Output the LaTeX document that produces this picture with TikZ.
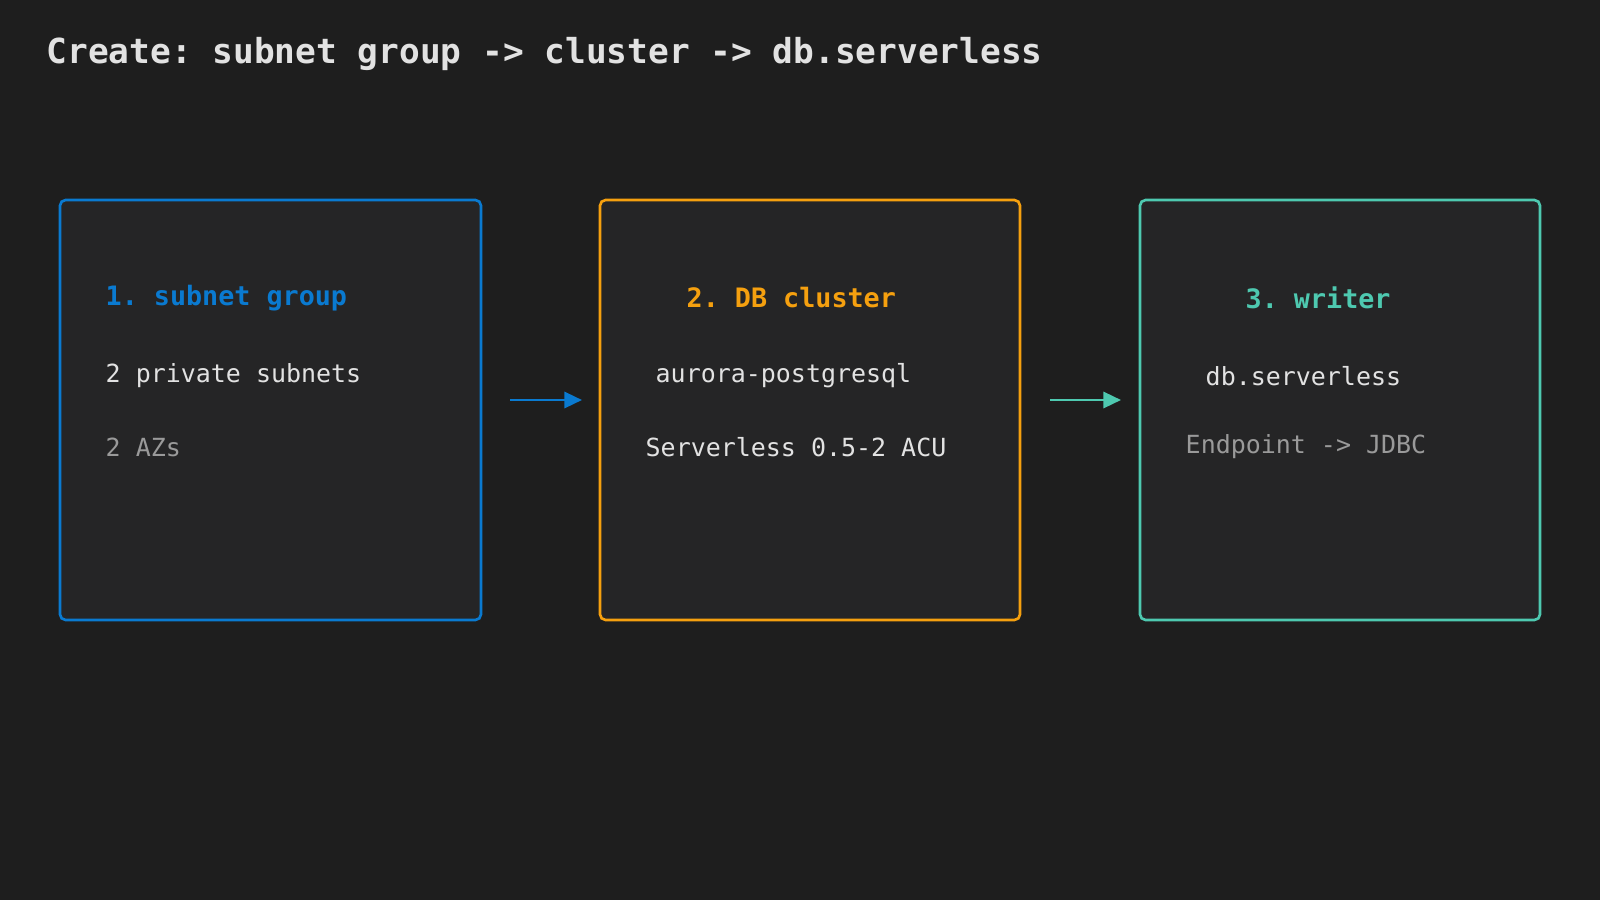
\documentclass[tikz,border=0pt]{standalone}
\usepackage{fontspec}
\setmonofont{DejaVu Sans Mono}
\usetikzlibrary{arrows.meta}
\definecolor{bg}{HTML}{1E1E1E}
\definecolor{boxfill}{HTML}{252526}
\definecolor{cblue}{HTML}{0A7AD0}
\definecolor{corange}{HTML}{F5A00F}
\definecolor{cteal}{HTML}{4EC9B0}
\definecolor{ctext}{HTML}{E2E2E2}
\definecolor{cgray}{HTML}{9A9A9A}
\tikzstyle{stage}=[line width=0.75pt,rounded corners=1.6pt,fill=boxfill]
\tikzstyle{head}=[anchor=west,inner sep=0pt,font=\ttfamily\bfseries\fontsize{7.6}{9}\selectfont]
\tikzstyle{line}=[anchor=west,inner sep=0pt,font=\ttfamily\fontsize{7.1}{9}\selectfont,text=ctext]
\tikzstyle{flow}=[line width=0.75pt,-{Triangle[length=5pt,width=4.6pt]}]

\begin{document}
\begin{tikzpicture}[x=0.01cm,y=-0.01cm]
    \fill[bg] (0,0) rectangle (1600,900);
    \useasboundingbox (0,0) rectangle (1600,900);
    % title
    \node[anchor=west,inner sep=0pt,text=ctext,font=\ttfamily\bfseries\fontsize{9.8}{12}\selectfont] (title) at (46,54) {Create: subnet group -> cluster -> db.serverless};
    % the three stages
    \draw[stage,draw=cblue] (60,200) rectangle (481,620);
    \draw[stage,draw=corange] (600,200) rectangle (1020,620);
    \draw[stage,draw=cteal] (1140,200) rectangle (1540,620);
    \coordinate (s1) at (481,400);
    \coordinate (s2w) at (600,400);
    \coordinate (s2) at (1020,400);
    \coordinate (s3w) at (1140,400);
    % texts
    \node[head,text=cblue] (h1) at (105,298) {1. subnet group};
    \node[line] (t11) at (105,376) {2 private subnets};
    \node[line,text=cgray] (t12) at (105,447) {2 AZs};
    \node[head,text=corange] (h2) at (686,298) {2. DB cluster};
    \node[line] (t21) at (655,376) {aurora-postgresql};
    \node[line] (t22) at (645,447) {Serverless 0.5-2 ACU};
    \node[head,text=cteal] (h3) at (1245,298) {3. writer};
    \node[line] (t31) at (1205,376) {db.serverless};
    \node[line,text=cgray] (t32) at (1185,447) {Endpoint -> JDBC};
    % arrows
    \path[flow,draw=cblue] ([xshift=0.29cm]s1) -- ([xshift=-0.18cm]s2w);
    \path[flow,draw=cteal] ([xshift=0.30cm]s2) -- ([xshift=-0.19cm]s3w);
\end{tikzpicture}
\end{document}
